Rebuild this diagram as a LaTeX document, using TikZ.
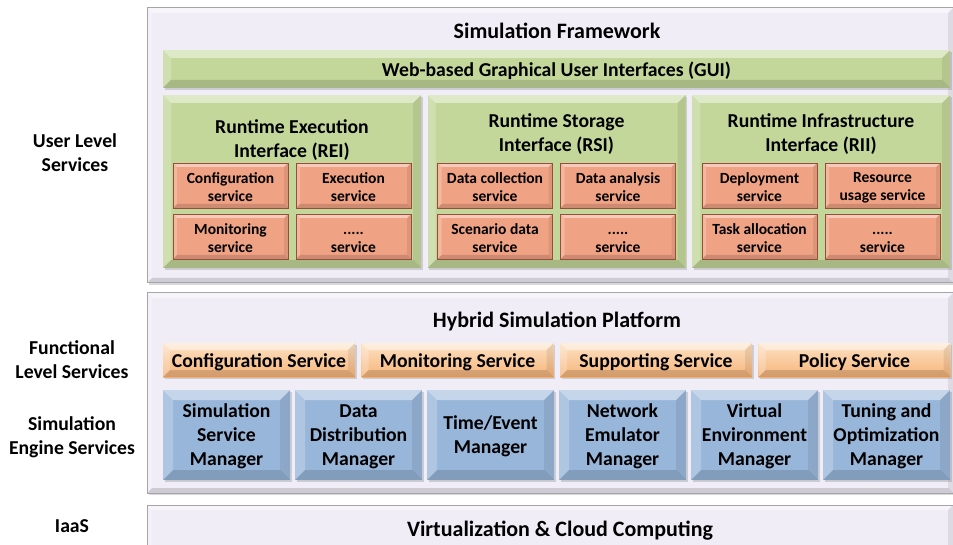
\documentclass[tikz,border=0pt]{standalone}
\usepackage{fontspec}
\setmainfont{Carlito}
\usetikzlibrary{positioning,shadows}

\definecolor{layerFill}{RGB}{241,237,247}
\definecolor{layerEdge}{RGB}{165,165,172}
\definecolor{guiGreen}{RGB}{196,215,155}
\definecolor{svcFill}{RGB}{240,162,132}
\definecolor{svcEdge}{RGB}{150,78,58}
\definecolor{funcTop}{RGB}{252,226,196}
\definecolor{funcBot}{RGB}{247,180,122}
\definecolor{engBlue}{RGB}{152,182,218}

\newcommand{\titlefont}{\fontsize{22}{26}\selectfont\bfseries}
\newcommand{\midfont}{\fontsize{19.7}{24}\selectfont\bfseries}
\newcommand{\svcfont}{\fontsize{15.5}{18}\selectfont\bfseries}
\newcommand{\svl}{\rule{0pt}{14.5pt}}

\tikzset{
  bevel/.style={path picture={
    \path (path picture bounding box.north west) coordinate (bvNW)
          (path picture bounding box.south east) coordinate (bvSE)
          (bvNW -| bvSE) coordinate (bvNE)
          (bvNW |- bvSE) coordinate (bvSW);
    \fill[white, opacity=.45] (bvNW) -- (bvNE) -- ([shift={(-#1,-#1)}]bvNE) -- ([shift={(#1,-#1)}]bvNW) -- cycle;
    \fill[white, opacity=.22] (bvNW) -- ([shift={(#1,-#1)}]bvNW) -- ([shift={(#1,#1)}]bvSW) -- (bvSW) -- cycle;
    \fill[black, opacity=.14] (bvSW) -- (bvSE) -- ([shift={(-#1,#1)}]bvSE) -- ([shift={(#1,#1)}]bvSW) -- cycle;
    \fill[black, opacity=.08] (bvNE) -- (bvSE) -- ([shift={(-#1,#1)}]bvSE) -- ([shift={(-#1,-#1)}]bvNE) -- cycle;
  }},
  bevel/.default=6pt,
  strut/.style={execute at begin node={\rule{0pt}{#1}}}
}

\begin{document}
\begin{tikzpicture}[
  x=1pt, y=-1pt,
  box/.style={anchor=north west, inner sep=0pt, outer sep=0pt, align=center},
  shade/.style={drop shadow={opacity=.3, shadow xshift=1.5pt, shadow yshift=-2pt}},
  layer/.style={box, fill=layerFill, draw=layerEdge, line width=1pt, bevel=5pt, shade, minimum width=806pt},
  ifbox/.style={box, fill=guiGreen, bevel=8pt, shade, font=\midfont},
  svc/.style={box, fill=svcFill, draw=svcEdge, line width=.8pt, bevel=4pt, minimum width=115pt, minimum height=45pt, font=\svcfont},
  func/.style={box, top color=funcTop, bottom color=funcBot, bevel=7pt, shade, strut=18pt, minimum width=192pt, minimum height=34pt, font=\midfont},
  engine/.style={box, fill=engBlue, bevel=10pt, shade, text depth=0pt, minimum width=127pt, minimum height=90pt, font=\midfont},
  lvl/.style={align=center, font=\midfont},
  ttl/.style={font=\titlefont}
]
\useasboundingbox[fill=white] (0,0) rectangle (953,545);

\node[layer, minimum height=275pt] (fw) at (147,8) {};
\node[layer, minimum height=200pt] (hsp) at (147,293) {};
\node[layer, minimum height=60pt] (iaas) at (147,505) {};

\node[lvl] (userL) at (75,152.5) {User Level\\Services};
\node[lvl] (funcL) at (72,359.5) {Functional\\Level Services};
\node[lvl] (engL) at (72,437.5) {Simulation\\Engine Services};
\node[lvl] (iaasL) at (72,526.5) {IaaS};

\node[ttl] (fwT) at (557,30.5) {Simulation Framework};
\node[ifbox, strut=18pt, minimum width=787pt, minimum height=38pt] (gui) at (163,50) {Web-based Graphical User Interfaces (GUI)};

\node[ifbox, minimum width=258pt, minimum height=173pt] (rei) at (163,95) {};
\node[ifbox, minimum width=258pt, minimum height=173pt, right=6.5pt of rei] (rsi) {};
\node[ifbox, minimum width=258pt, minimum height=173pt, right=6.5pt of rsi] (rii) {};

\node[lvl] (reiT) at ([yshift=-45pt]rei.north) {Runtime Execution\\Interface (REI)};
\node[lvl] (rsiT) at ([yshift=-39.5pt]rsi.north) {Runtime Storage\\Interface (RSI)};
\node[lvl] (riiT) at ([yshift=-39.5pt]rii.north) {Runtime Infrastructure\\Interface (RII)};

\node[svc] (reiA) at ([xshift=10pt, yshift=-68pt]rei.north west) {\svl Configuration\\service};
\node[svc, right=8pt of reiA] (reiB) {\svl Execution\\service};
\node[svc, below=6pt of reiA] (reiC) {\svl Monitoring\\service};
\node[svc, below=6pt of reiB] (reiD) {\svl .....\\service};

\node[svc] (rsiA) at ([xshift=10pt, yshift=-68pt]rsi.north west) {\svl Data collection\\service};
\node[svc, right=8pt of rsiA] (rsiB) {\svl Data analysis\\service};
\node[svc, below=6pt of rsiA] (rsiC) {\svl Scenario data\\service};
\node[svc, below=6pt of rsiB] (rsiD) {\svl .....\\service};

\node[svc] (riiA) at ([xshift=10pt, yshift=-68pt]rii.north west) {\svl Deployment\\service};
\node[svc, right=8pt of riiA] (riiB) {\svl Resource\\usage service};
\node[svc, below=6pt of riiA] (riiC) {\svl Task allocation\\service};
\node[svc, below=6pt of riiB] (riiD) {\svl .....\\service};

\node[ttl] (hspT) at (557,321) {Hybrid Simulation Platform};
\node[func] (cfgS) at (163,343) {Configuration Service};
\node[func, right=6.5pt of cfgS] (monS) {Monitoring Service};
\node[func, right=6.5pt of monS] (supS) {Supporting Service};
\node[func, right=6.5pt of supS] (polS) {Policy Service};

\node[engine] (ssm) at (163,390) {Simulation\\Service\\Manager};
\node[engine, right=5pt of ssm] (ddm) {Data\\Distribution\\Manager};
\node[engine, right=5pt of ddm] (tem) {Time/Event\\Manager};
\node[engine, right=5pt of tem] (nem) {Network\\Emulator\\Manager};
\node[engine, right=5pt of nem] (vem) {Virtual\\Environment\\Manager};
\node[engine, right=5pt of vem] (tom) {Tuning and\\Optimization\\Manager};

\node[ttl] (iaasT) at (560,530.5) {Virtualization \& Cloud Computing};
\end{tikzpicture}
\end{document}
